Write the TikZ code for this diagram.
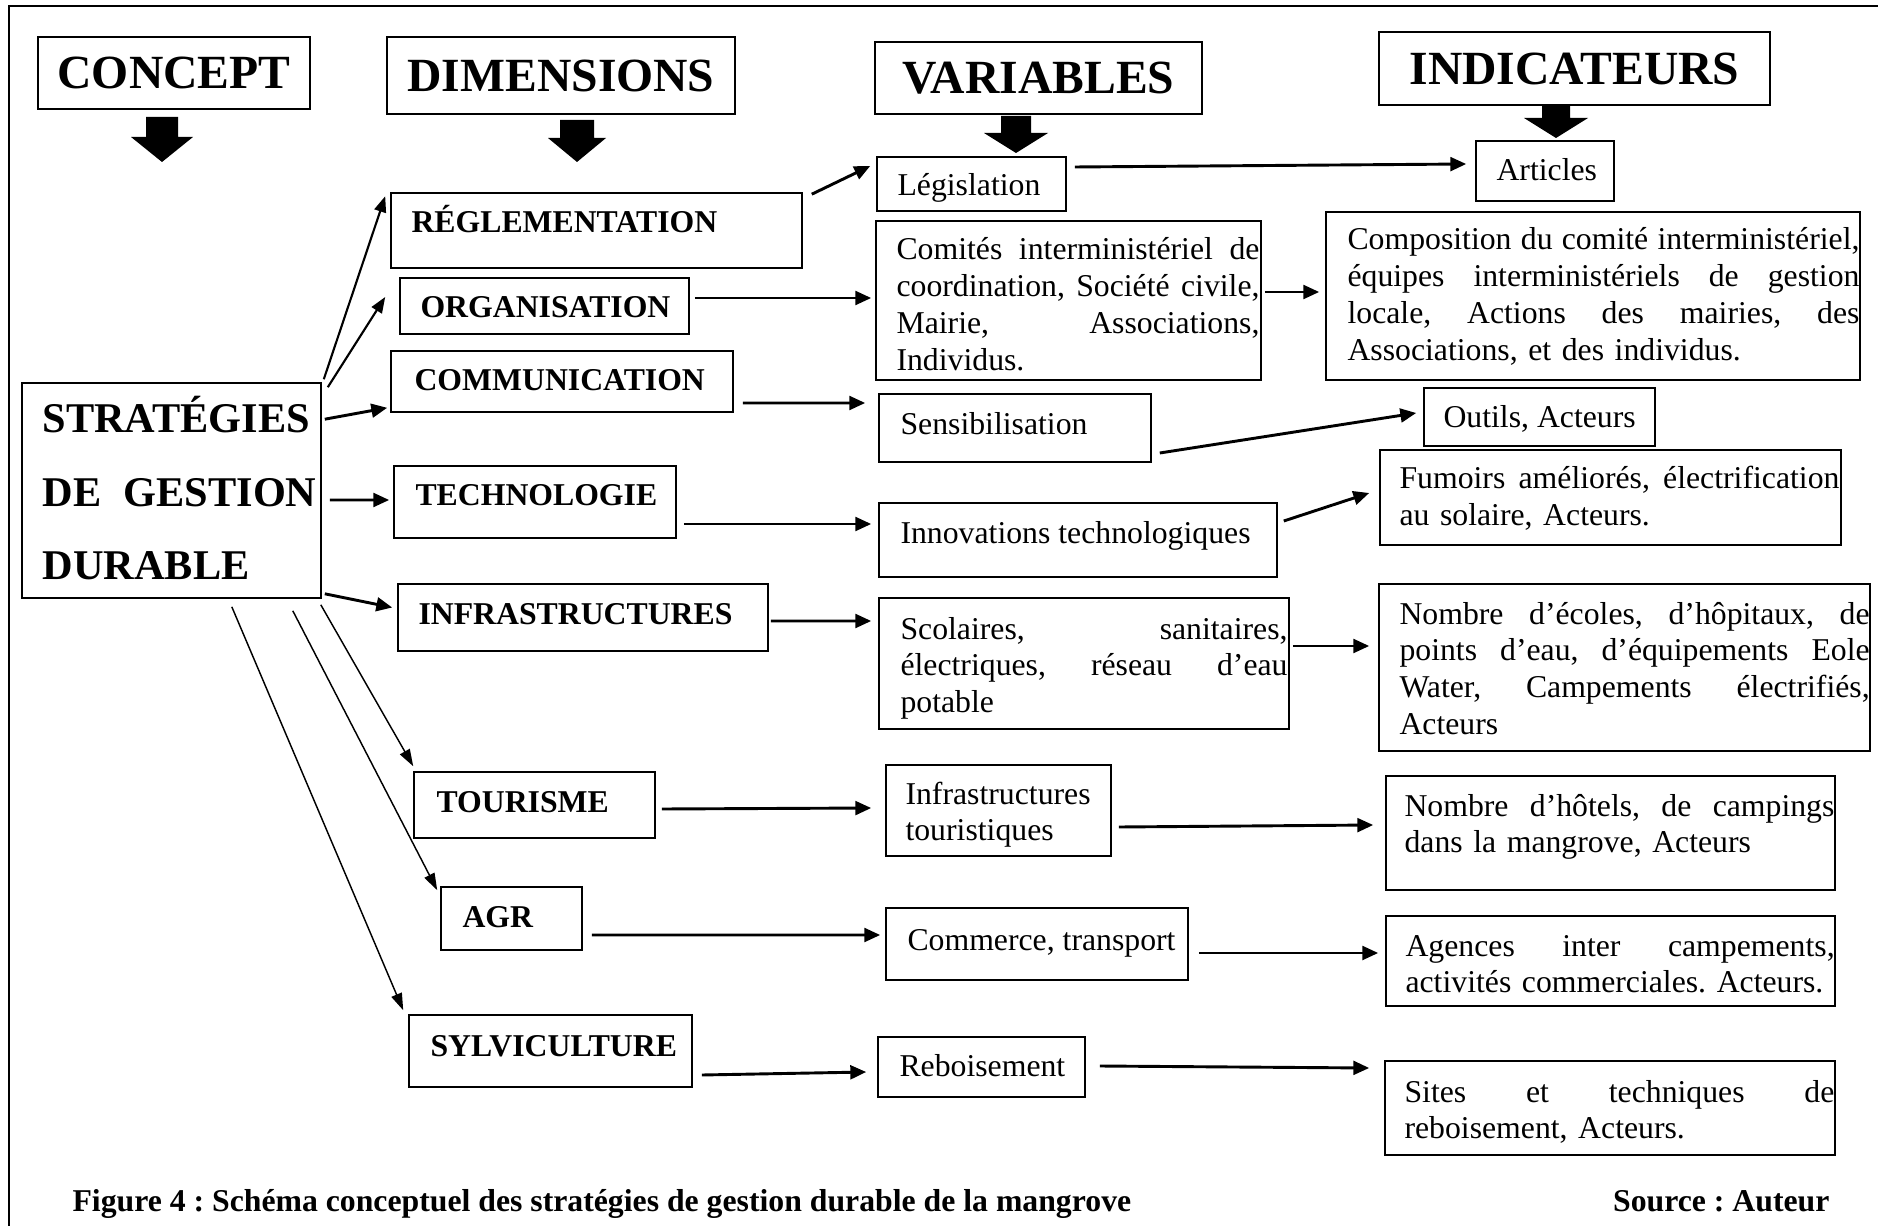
\documentclass[tikz,border=0pt]{standalone}
\usepackage{fontspec}
\setmainfont{Liberation Serif}
\usetikzlibrary{calc,arrows.meta}
\tikzset{
  boxst/.style={draw, line width=0.6pt, inner sep=0pt, rectangle},
  txt/.style={inner sep=0pt, anchor=base west, font=\fontsize{12pt}{13.87pt}\selectfont},
  btxt/.style={inner sep=0pt, anchor=base west, font=\fontsize{12pt}{13.87pt}\selectfont\bfseries},
  thickarr/.style={line width=1.1pt, -{Triangle[length=6pt,width=5.2pt]}},
  midarr/.style={line width=0.8pt, -{Triangle[length=6pt,width=4.5pt]}},
  thinarr/.style={line width=0.55pt, -{Triangle[length=6.4pt,width=4.2pt]}},
}
\newcommand{\mybox}[5]{\node[boxst, minimum width={(#4-#2)*0.378pt}, minimum height={(#5-#3)*0.378pt}] (#1) at ({(#2+#4)/2},{(#3+#5)/2}) {};}
\newcommand{\headbox}[6]{\node[boxst, font=\fontsize{18pt}{20pt}\selectfont\bfseries, minimum width={(#4-#2)*0.378pt}, minimum height={(#5-#3)*0.378pt}] (#1) at ({(#2+#4)/2},{(#3+#5)/2}) {#6};}
\newcommand{\blockarrow}[6]{\fill (#1-#5,#2) -- (#1+#5,#2) -- (#1+#5,#3) -- (#1+#6,#3) -- (#1,#4) -- (#1-#6,#3) -- (#1-#5,#3) -- cycle;}
\newcommand{\jl}[1]{\makebox[\hsize][s]{\spaceskip=0pt\relax #1}}
\begin{document}
\frenchspacing
\begin{tikzpicture}[x=0.378pt, y=-0.378pt]
\useasboundingbox (0,0) rectangle (1878,1226);
\draw[line width=0.6pt] (9,1226) -- (9,6) -- (1878,6);

% headers
\headbox{con}{38}{37}{310}{109}{CONCEPT}
\headbox{dim}{387}{37}{735}{114}{DIMENSIONS}
\headbox{var}{875}{42}{1202}{114}{VARIABLES}
\headbox{ind}{1379}{32}{1770}{105}{INDICATEURS}
\blockarrow{162}{117}{137}{162}{16}{31}
\blockarrow{577}{120}{138}{162}{17}{29}
\blockarrow{1016}{116}{133}{153}{15}{32}
\blockarrow{1556}{105}{118}{138}{14}{32}

% concept
\mybox{strat}{22}{383}{321}{598}
\node[inner sep=0pt, anchor=base west, text width=103.6pt, align=left, font=\fontsize{16pt}{27.6pt}\selectfont\bfseries] (tstrat) at (42,433) {STRATÉGIES\\ \makebox[\hsize]{DE\hfill GESTION}\\ DURABLE};

% dimensions
\mybox{reg}{391}{193}{802}{268}
\mybox{org}{400}{278}{689}{334}
\mybox{com}{391}{351}{733}{412}
\mybox{tec}{394}{466}{676}{538}
\mybox{inf}{398}{584}{768}{651}
\mybox{tou}{414}{772}{655}{838}
\mybox{agr}{441}{887}{582}{950}
\mybox{syl}{409}{1015}{692}{1087}
\node[btxt] (treg) at (411,233) {RÉGLEMENTATION};
\node[btxt] (torg) at (420,318) {ORGANISATION};
\node[btxt] (tcom) at (414,391) {COMMUNICATION};
\node[btxt] (ttec) at (415,506) {TECHNOLOGIE};
\node[btxt] (tinf) at (418,624) {INFRASTRUCTURES};
\node[btxt] (ttou) at (436,812) {TOURISME};
\node[btxt] (tagr) at (462,927) {AGR};
\node[btxt] (tsyl) at (430,1056) {SYLVICULTURE};

% variables
\mybox{leg}{877}{157}{1066}{211}
\mybox{comi}{876}{221}{1261}{380}
\mybox{sen}{879}{394}{1151}{462}
\mybox{inn}{879}{503}{1277}{577}
\mybox{sco}{879}{598}{1289}{729}
\mybox{itour}{886}{765}{1111}{856}
\mybox{comm}{886}{908}{1188}{980}
\mybox{reb}{878}{1037}{1085}{1097}
\node[txt] (tleg) at (897,196) {Législation};
\node[txt, text width=137.2pt, align=left] (tcomi) at (896,260) {\jl{Comités interministériel de}\\ \jl{coordination, Société civile,}\\ \jl{Mairie, Associations,}\\ Individus.};
\node[txt] (tsen) at (900,435) {Sensibilisation};
\node[txt] (tinn) at (900,544) {Innovations technologiques};
\node[txt, text width=146.3pt, align=left] (tsco) at (900,639) {\jl{Scolaires, sanitaires,}\\ \jl{électriques, réseau d’eau}\\ potable};
\node[txt, text width=80pt, align=left] (titour) at (905,804) {Infrastructures\\ touristiques};
\node[txt] (tcomm) at (907,950) {Commerce, transport};
\node[txt] (treb) at (899,1076) {Reboisement};

% indicators
\mybox{art}{1476}{141}{1614}{201}
\mybox{compo}{1326}{212}{1860}{380}
\mybox{out}{1424}{388}{1655}{446}
\mybox{fum}{1380}{450}{1841}{545}
\mybox{eco}{1379}{584}{1870}{751}
\mybox{hot}{1386}{776}{1835}{890}
\mybox{age}{1386}{916}{1835}{1006}
\mybox{sit}{1385}{1061}{1835}{1155}
\node[txt] (tart) at (1496,181) {Articles};
\node[txt, text width=193.5pt, align=left] (tcompo) at (1347,250) {\jl{Composition du comité interministériel,}\\ \jl{équipes interministériels de gestion}\\ \jl{locale, Actions des mairies, des}\\ Associations, et des individus.};
\node[txt] (tout) at (1443,428) {Outils, Acteurs};
\node[txt, text width=166.3pt, align=left] (tfum) at (1399,489) {\jl{Fumoirs améliorés, électrification}\\ au solaire, Acteurs.};
\node[txt, text width=177.7pt, align=left] (teco) at (1399,624) {\jl{Nombre d’écoles, d’hôpitaux, de}\\ \jl{points d’eau, d’équipements Eole}\\ \jl{Water, Campements électrifiés,}\\ Acteurs};
\node[txt, text width=162.5pt, align=left] (thot) at (1404,816) {\jl{Nombre d’hôtels, de campings}\\ dans la mangrove, Acteurs};
\node[txt, text width=162.2pt, align=left] (tage) at (1405,956) {\jl{Agences inter campements,}\\ activités commerciales. Acteurs.};
\node[txt, text width=162.5pt, align=left] (tsit) at (1404,1102) {\jl{Sites et techniques de}\\ reboisement, Acteurs.};

% concept -> dimensions
\draw[midarr] ($(strat.north east)+(2,-3)$) -- ($(reg.north west)+(-5,4)$);
\draw[midarr] ($(strat.north east)+(6,5)$) -- ($(org.west)+(-14,-9)$);
\draw[thickarr] ($(strat.north east)+(3,37)$) -- ($(com.south west)+(-3,-5)$);
\draw[thickarr] ($(strat.east)+(8,9.5)$) -- ($(tec.west)+(-4,-2)$);
\draw[thickarr] ($(strat.south east)+(3,-5)$) -- ($(inf.west)+(-5,-10)$);
\draw[thinarr] ($(strat.south east)+(-1,6)$) -- ($(tou.north west)+(0,-5)$);
\draw[thinarr] ($(strat.south east)+(-29,12)$) -- ($(agr.north west)+(-3,4)$);
\draw[thinarr] ($(strat.south east)+(-90,8)$) -- ($(syl.north west)+(-5,-4)$);

% dimensions -> variables
\draw[thickarr] ($(reg.north east)+(9,2)$) -- ($(leg.west)+(-6,-18)$);
\draw[thickarr] ($(org.east)+(5,-8)$) -- ($(comi.west)+(-4,-2.5)$);
\draw[thickarr] ($(com.east)+(9,21.5)$) -- ($(sen.west)+(-13,-25)$);
\draw[thickarr] ($(tec.east)+(7,22)$) -- ($(inn.west)+(-7,-16)$);
\draw[thickarr] ($(inf.east)+(2,3.5)$) -- ($(sco.west)+(-7,-42.5)$);
\draw[thickarr] ($(tou.east)+(6,4)$) -- ($(itour.west)+(-14,-2.5)$);
\draw[thickarr] ($(agr.east)+(9,16.5)$) -- ($(comm.west)+(-5,-9)$);
\draw[thickarr] ($(syl.east)+(9,24)$) -- ($(reb.west)+(-11,5)$);

% variables -> indicators
\draw[thickarr] ($(leg.east)+(8,-17)$) -- ($(art.west)+(-9,-7)$);
\draw[thickarr] ($(comi.east)+(3,-8.5)$) -- ($(compo.west)+(-6,-4)$);
\draw[thickarr] ($(sen.east)+(8,25)$) -- ($(out.west)+(-7,-4)$);
\draw[thickarr] ($(inn.east)+(6,-19)$) -- ($(fum.west)+(-10,-4.5)$);
\draw[thickarr] ($(sco.east)+(3,-17.5)$) -- ($(eco.west)+(-9,-21.5)$);
\draw[thickarr] ($(itour.east)+(7,16.5)$) -- ($(hot.west)+(-12,-8)$);
\draw[thickarr] ($(comm.east)+(10,9)$) -- ($(age.west)+(-7,-8)$);
\draw[thickarr] ($(reb.east)+(14,-1)$) -- ($(sit.west)+(-15,-40)$);

% caption
\node[btxt] (cap) at (72,1211) {Figure 4 : Schéma conceptuel des stratégies de gestion durable de la mangrove};
\node[btxt, anchor=base east] (src) at (1830,1211) {Source : Auteur};
\end{tikzpicture}
\end{document}
